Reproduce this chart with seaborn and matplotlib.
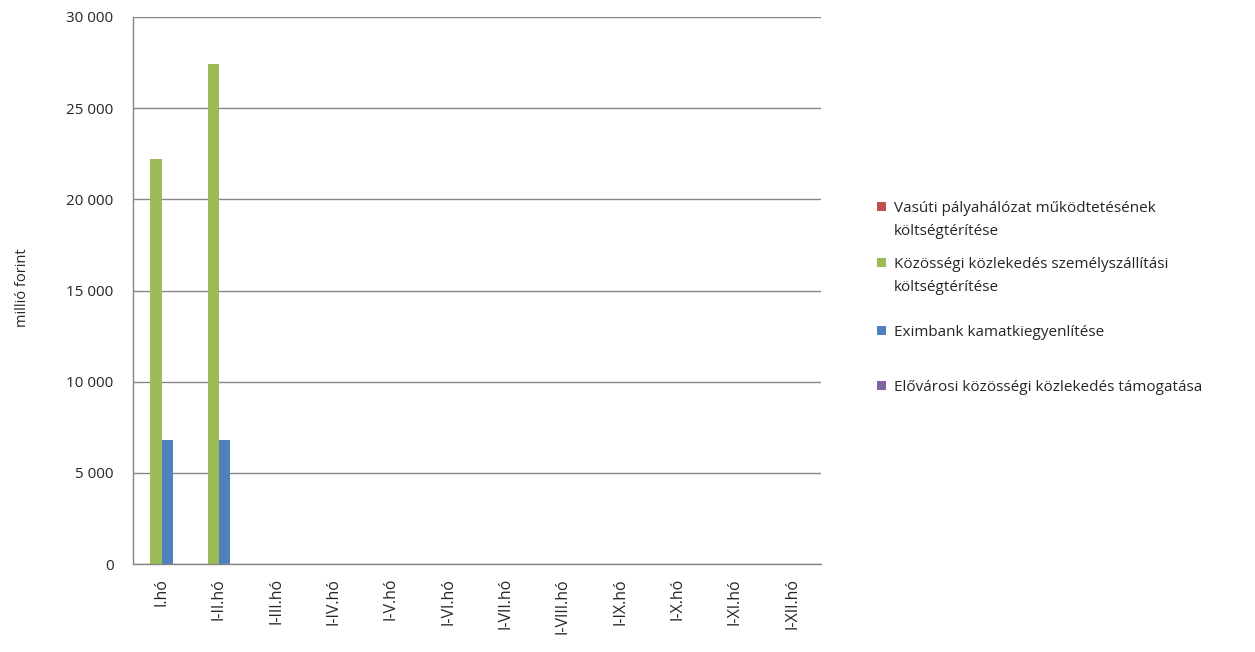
import numpy as np
import pandas as pd
import matplotlib.pyplot as plt
import seaborn as sns
from matplotlib.patches import Patch
from matplotlib.ticker import FuncFormatter, FixedLocator

months = ['I.hó', 'I-II.hó', 'I-III.hó', 'I-IV.hó', 'I-V.hó', 'I-VI.hó',
          'I-VII.hó', 'I-VIII.hó', 'I-IX.hó', 'I-X.hó', 'I-XI.hó', 'I-XII.hó']
series = ['Vasúti pályahálózat működtetésének\nköltségtérítése',
          'Közösségi közlekedés személyszállítási\nköltségtérítése',
          'Eximbank kamatkiegyenlítése',
          'Elővárosi közösségi közlekedés támogatása']
vasut = [0, 0, 0, 0, 0, 0, 0, 0, 0, 0, 0, 0]
kozossegi = [22200, 27400, 0, 0, 0, 0, 0, 0, 0, 0, 0, 0]
eximbank = [6800, 6800, 0, 0, 0, 0, 0, 0, 0, 0, 0, 0]
elovarosi = [0, 0, 0, 0, 0, 0, 0, 0, 0, 0, 0, 0]
colors = ['#C0504D', '#9BBB59', '#4F81BD', '#8064A2']

rows = []
for name, vals in zip(series, [vasut, kozossegi, eximbank, elovarosi]):
    for m, v in zip(months, vals):
        rows.append({'honap': m, 'sorozat': name, 'ertek': v})
df = pd.DataFrame(rows)

sns.set_style('white')
plt.rcParams['font.family'] = ['Open Sans', 'DejaVu Sans']
txt = '#262626'

fig = plt.figure(figsize=(12.55, 6.52), dpi=100)
ax = fig.add_axes([133 / 1255, 1 - 564 / 652, (821 - 133) / 1255, (564 - 17) / 652])

sns.barplot(data=df, x='honap', y='ertek', hue='sorozat', hue_order=series,
            palette=colors, width=0.8, errorbar=None, saturation=1,
            linewidth=0, ax=ax, legend=False)

ax.set_xlim(-0.5, len(months) - 0.5)
ax.set_ylim(0, 30000)
ax.set_yticks(np.arange(0, 30001, 5000))
ax.yaxis.set_major_formatter(FuncFormatter(lambda v, p: f'{int(v):,}'.replace(',', ' ')))
ax.grid(axis='y', color='#868686', linewidth=1)
ax.set_axisbelow(True)
for s in ['top', 'right']:
    ax.spines[s].set_visible(False)
for s in ['left', 'bottom']:
    ax.spines[s].set_color('#868686')
    ax.spines[s].set_linewidth(1)

ax.tick_params(axis='x', which='major', length=0, labelsize=11.5, rotation=90,
               pad=10, labelcolor=txt)
ax.xaxis.set_minor_locator(FixedLocator(np.arange(-0.5, len(months), 1)))
ax.tick_params(axis='x', which='minor', length=6, color='#868686', direction='out')
ax.tick_params(axis='y', length=6, color='#868686', direction='out',
               labelsize=11, pad=8, labelcolor=txt)
ax.set_xlabel('')
ax.set_ylabel('millió forint', fontsize=10.5, color=txt)
ax.yaxis.set_label_coords(-0.15, 0.505)

# legend: one block per series, evenly spaced slots, square beside first line
slot_top = [201, 257, 325, 380]  # pixel y of each block's top
for name, col, top in zip(series, colors, slot_top):
    lines = name.split('\n')
    hs = [Patch(facecolor=col, edgecolor='none')] + \
         [Patch(facecolor='none', edgecolor='none') for _ in lines[1:]]
    leg = fig.legend(hs, lines, loc='upper left',
                     bbox_to_anchor=(877 / 1255, 1 - top / 652),
                     frameon=False, fontsize=11, handlelength=0.6,
                     handleheight=0.6, handletextpad=0.5, labelspacing=0.5,
                     borderpad=0, borderaxespad=0)
    for t in leg.get_texts():
        t.set_color(txt)

fig.savefig('out.png', dpi=100)
